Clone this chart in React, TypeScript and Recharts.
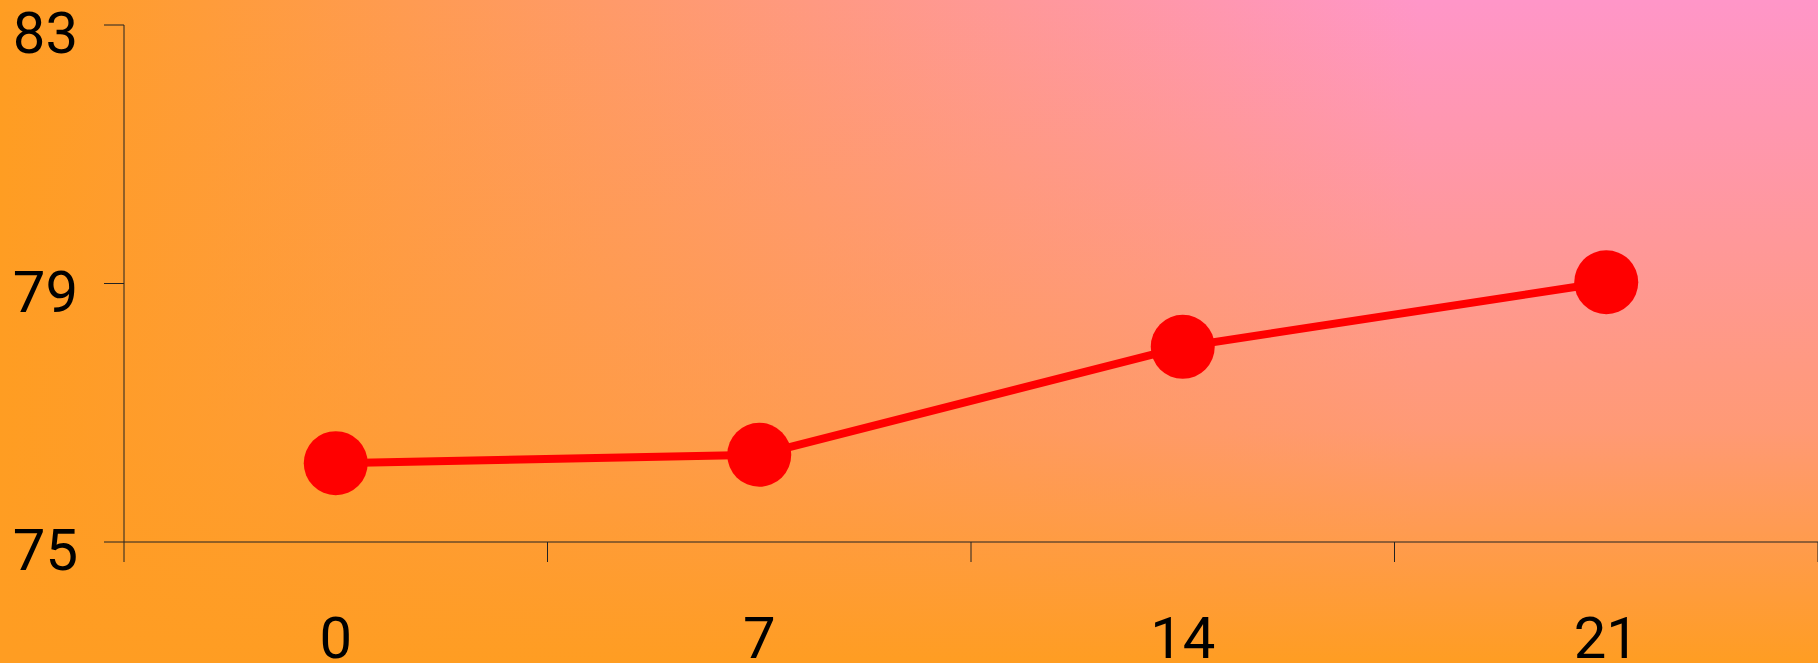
import React from "react";
import { LineChart, Line, XAxis, YAxis } from "recharts";

const days = [0, 7, 14, 21];
const scores = [76.22, 76.35, 78.02, 79.02];
const yTicks = [75, 79, 83];
// band edges where the x tick marks sit
const xEdges = [-3.5, 3.5, 10.5, 17.5, 24.5];

const W = 1818;
const H = 663;
const LEFT = 124;
const halfBand = (W - LEFT) / days.length / 2;

const data = days.map((d, i) => ({ day: d, score: scores[i] }));

const FONT = "Roboto, sans-serif";

function XTick(props: any) {
  const { x, y, index } = props;
  if (index >= days.length) return <g />;
  return (
    <text
      x={x + halfBand}
      y={y}
      dy="0.71em"
      textAnchor="middle"
      fontFamily={FONT}
      fontSize={58}
      fill="#000"
    >
      {days[index]}
    </text>
  );
}

function YTick(props: any) {
  const { x, y, payload } = props;
  return (
    <text
      x={x}
      y={y}
      dy={28}
      textAnchor="end"
      fontFamily={FONT}
      fontSize={58}
      fill="#000"
    >
      {payload.value}
    </text>
  );
}

export default function App() {
  return (
    <div
      style={{
        position: "absolute",
        left: 0,
        top: 0,
        width: W,
        height: H,
        background:
          "linear-gradient(to top, #ff9d22 0%, rgba(255,157,34,0.5) 35%, rgba(255,157,34,0) 100%), linear-gradient(to right, #ff9d22 0%, #ff96c8 78%, #ff96c8 100%)",
      }}
    >
      <LineChart
        width={W}
        height={H}
        data={data}
        margin={{ top: 25, right: 0, left: 0, bottom: 0 }}
      >
        <XAxis
          dataKey="day"
          type="number"
          domain={[xEdges[0], xEdges[xEdges.length - 1]]}
          ticks={xEdges}
          interval={0}
          height={H - 542}
          tickSize={20}
          tickMargin={55}
          stroke="#222"
          tick={<XTick />}
        />
        <YAxis
          dataKey="score"
          type="number"
          domain={[75, 83]}
          ticks={yTicks}
          width={LEFT}
          tickSize={20}
          tickMargin={26}
          stroke="#222"
          tick={<YTick />}
        />
        <Line
          type="linear"
          dataKey="score"
          stroke="#ff0000"
          strokeWidth={8}
          dot={{ r: 32, fill: "#ff0000", stroke: "none" }}
          isAnimationActive={false}
        />
      </LineChart>
    </div>
  );
}
